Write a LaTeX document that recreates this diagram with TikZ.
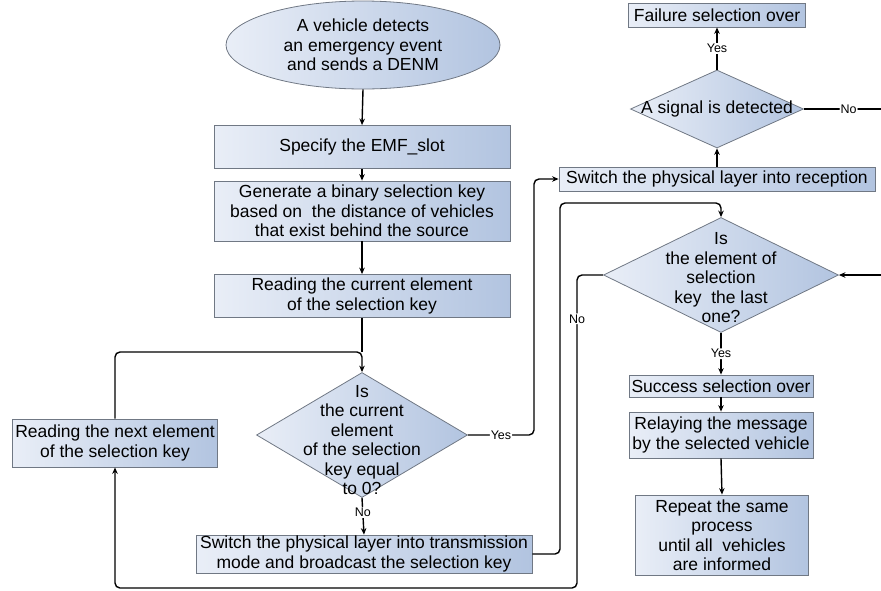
\documentclass[tikz,border=0pt]{standalone}
\usepackage{fontspec}
\setmainfont{Liberation Sans}
\usetikzlibrary{shapes.geometric,arrows.meta}
\definecolor{fillL}{RGB}{233,238,247}
\definecolor{fillR}{RGB}{178,196,224}
\definecolor{edge}{RGB}{112,120,132}
\begin{document}
\begin{tikzpicture}[x=1pt,y=-1pt,
  txt/.style={font=\fontsize{17.5}{19.5}\selectfont, align=center},
  box/.style={draw=edge, line width=0.8pt, left color=fillL, right color=fillR, inner sep=0pt, txt},
  dec/.style={diamond, draw=edge, line width=0.8pt, left color=fillL, right color=fillR, inner sep=0pt},
  conn/.style={line width=1.4pt, rounded corners=5pt},
  arr/.style={conn, -{Stealth[length=6.5pt,width=5.5pt]}},
  lab/.style={fill=white, inner sep=1pt, font=\fontsize{12.5}{13}\selectfont}
]
\useasboundingbox (0,0) rectangle (881,590);

% left / centre column
\node[ellipse, draw=edge, line width=0.8pt, left color=fillL, right color=fillR,
      minimum width=274pt, minimum height=88pt, inner sep=0pt, txt] (ell) at (363,45)
      {A vehicle detects\\an emergency event\\and sends a DENM};
\node[box, minimum width=296pt, minimum height=43pt] (spec) at (362,147) {Specify the EMF\_slot};
\node[box, minimum width=296pt, minimum height=60pt] (gen) at (362,211)
      {Generate a binary selection key\\based on\ \ the distance of vehicles\\that exist behind the source};
\node[box, minimum width=296pt, minimum height=43pt] (cur) at (362,296)
      {Reading the current element\\of the selection key};
\node[dec, minimum width=211pt, minimum height=125pt] (d1) at (362,435) {};
\node[txt] (d1t) at (362,440) {Is\\the current\\element\\of the selection\\key equal\\to 0?};
\node[box, minimum width=336pt, minimum height=38pt] (trans) at (364,554)
      {Switch the physical layer into transmission\\mode and broadcast the selection key};
\node[box, minimum width=205pt, minimum height=48pt] (nextk) at (115,443)
      {Reading the next element\\of the selection key};

% right column
\node[box, minimum width=177pt, minimum height=24pt] (fail) at (717,15) {Failure selection over};
\node[dec, minimum width=173pt, minimum height=78pt] (dsig) at (717,109) {};
\node[txt] (dsigt) at (717,109) {A signal is detected};
\node[box, minimum width=316pt, minimum height=24pt] (rec) at (717,179) {Switch the physical layer into reception};
\node[dec, minimum width=235pt, minimum height=115pt] (d2) at (721,275) {};
\node[txt] (d2t) at (721,278) {Is\\the element of\\selection\\key\ \ the last\\one?};
\node[box, minimum width=184pt, minimum height=22pt] (succ) at (721,386) {Success selection over};
\node[box, minimum width=184pt, minimum height=46pt] (relay) at (721,435) {Relaying the message\\by the selected vehicle};
\node[box, minimum width=173pt, minimum height=80pt] (rep) at (722,535)
      {Repeat the same\\process\\until all\ \ vehicles\\are informed};

% helper coordinates
\coordinate (j1) at (362,352);
\coordinate (xa) at (534,0);
\coordinate (xb) at (560,0);
\coordinate (yb) at (0,203);
\coordinate (xc) at (577,0);
\coordinate (yc) at (0,588);
\coordinate (rin) at (881,275);
\coordinate (rno) at (881,109);

% connectors
\draw[arr] (ell.south) -- (spec.north);
\draw[arr] (spec.south) -- (gen.north);
\draw[arr] (gen.south) -- (cur.north);
\draw[conn] (cur.south) -- (j1);
\draw[arr] (nextk.north) |- (j1) -- (d1.north);
\draw[arr] (d1.south) -- node[lab, pos=0.4]{No} (trans.north);
\draw[arr] (d1.east) -- node[lab]{Yes} (d1.east -| xa) |- (rec.west);
\draw[arr] (trans.east) -| (xb |- yb) -| (d2.north);
\draw[arr] (d2.west) -- (d2.west -| xc) -- node[lab, pos=0.14]{No} (xc |- yc) -| (nextk.south);
\draw[arr] (rin) -- (d2.east);
\draw[conn] (dsig.east) -- node[lab, pos=0.58]{No} (rno);
\draw[arr] (rec.north) -- (dsig.south);
\draw[arr] (dsig.north) -- node[lab]{Yes} (fail.south);
\draw[arr] (d2.south) -- node[lab]{Yes} (succ.north);
\draw[arr] (succ.south) -- (relay.north);
\draw[arr] (relay.south) -- (rep.north);
\end{tikzpicture}
\end{document}
